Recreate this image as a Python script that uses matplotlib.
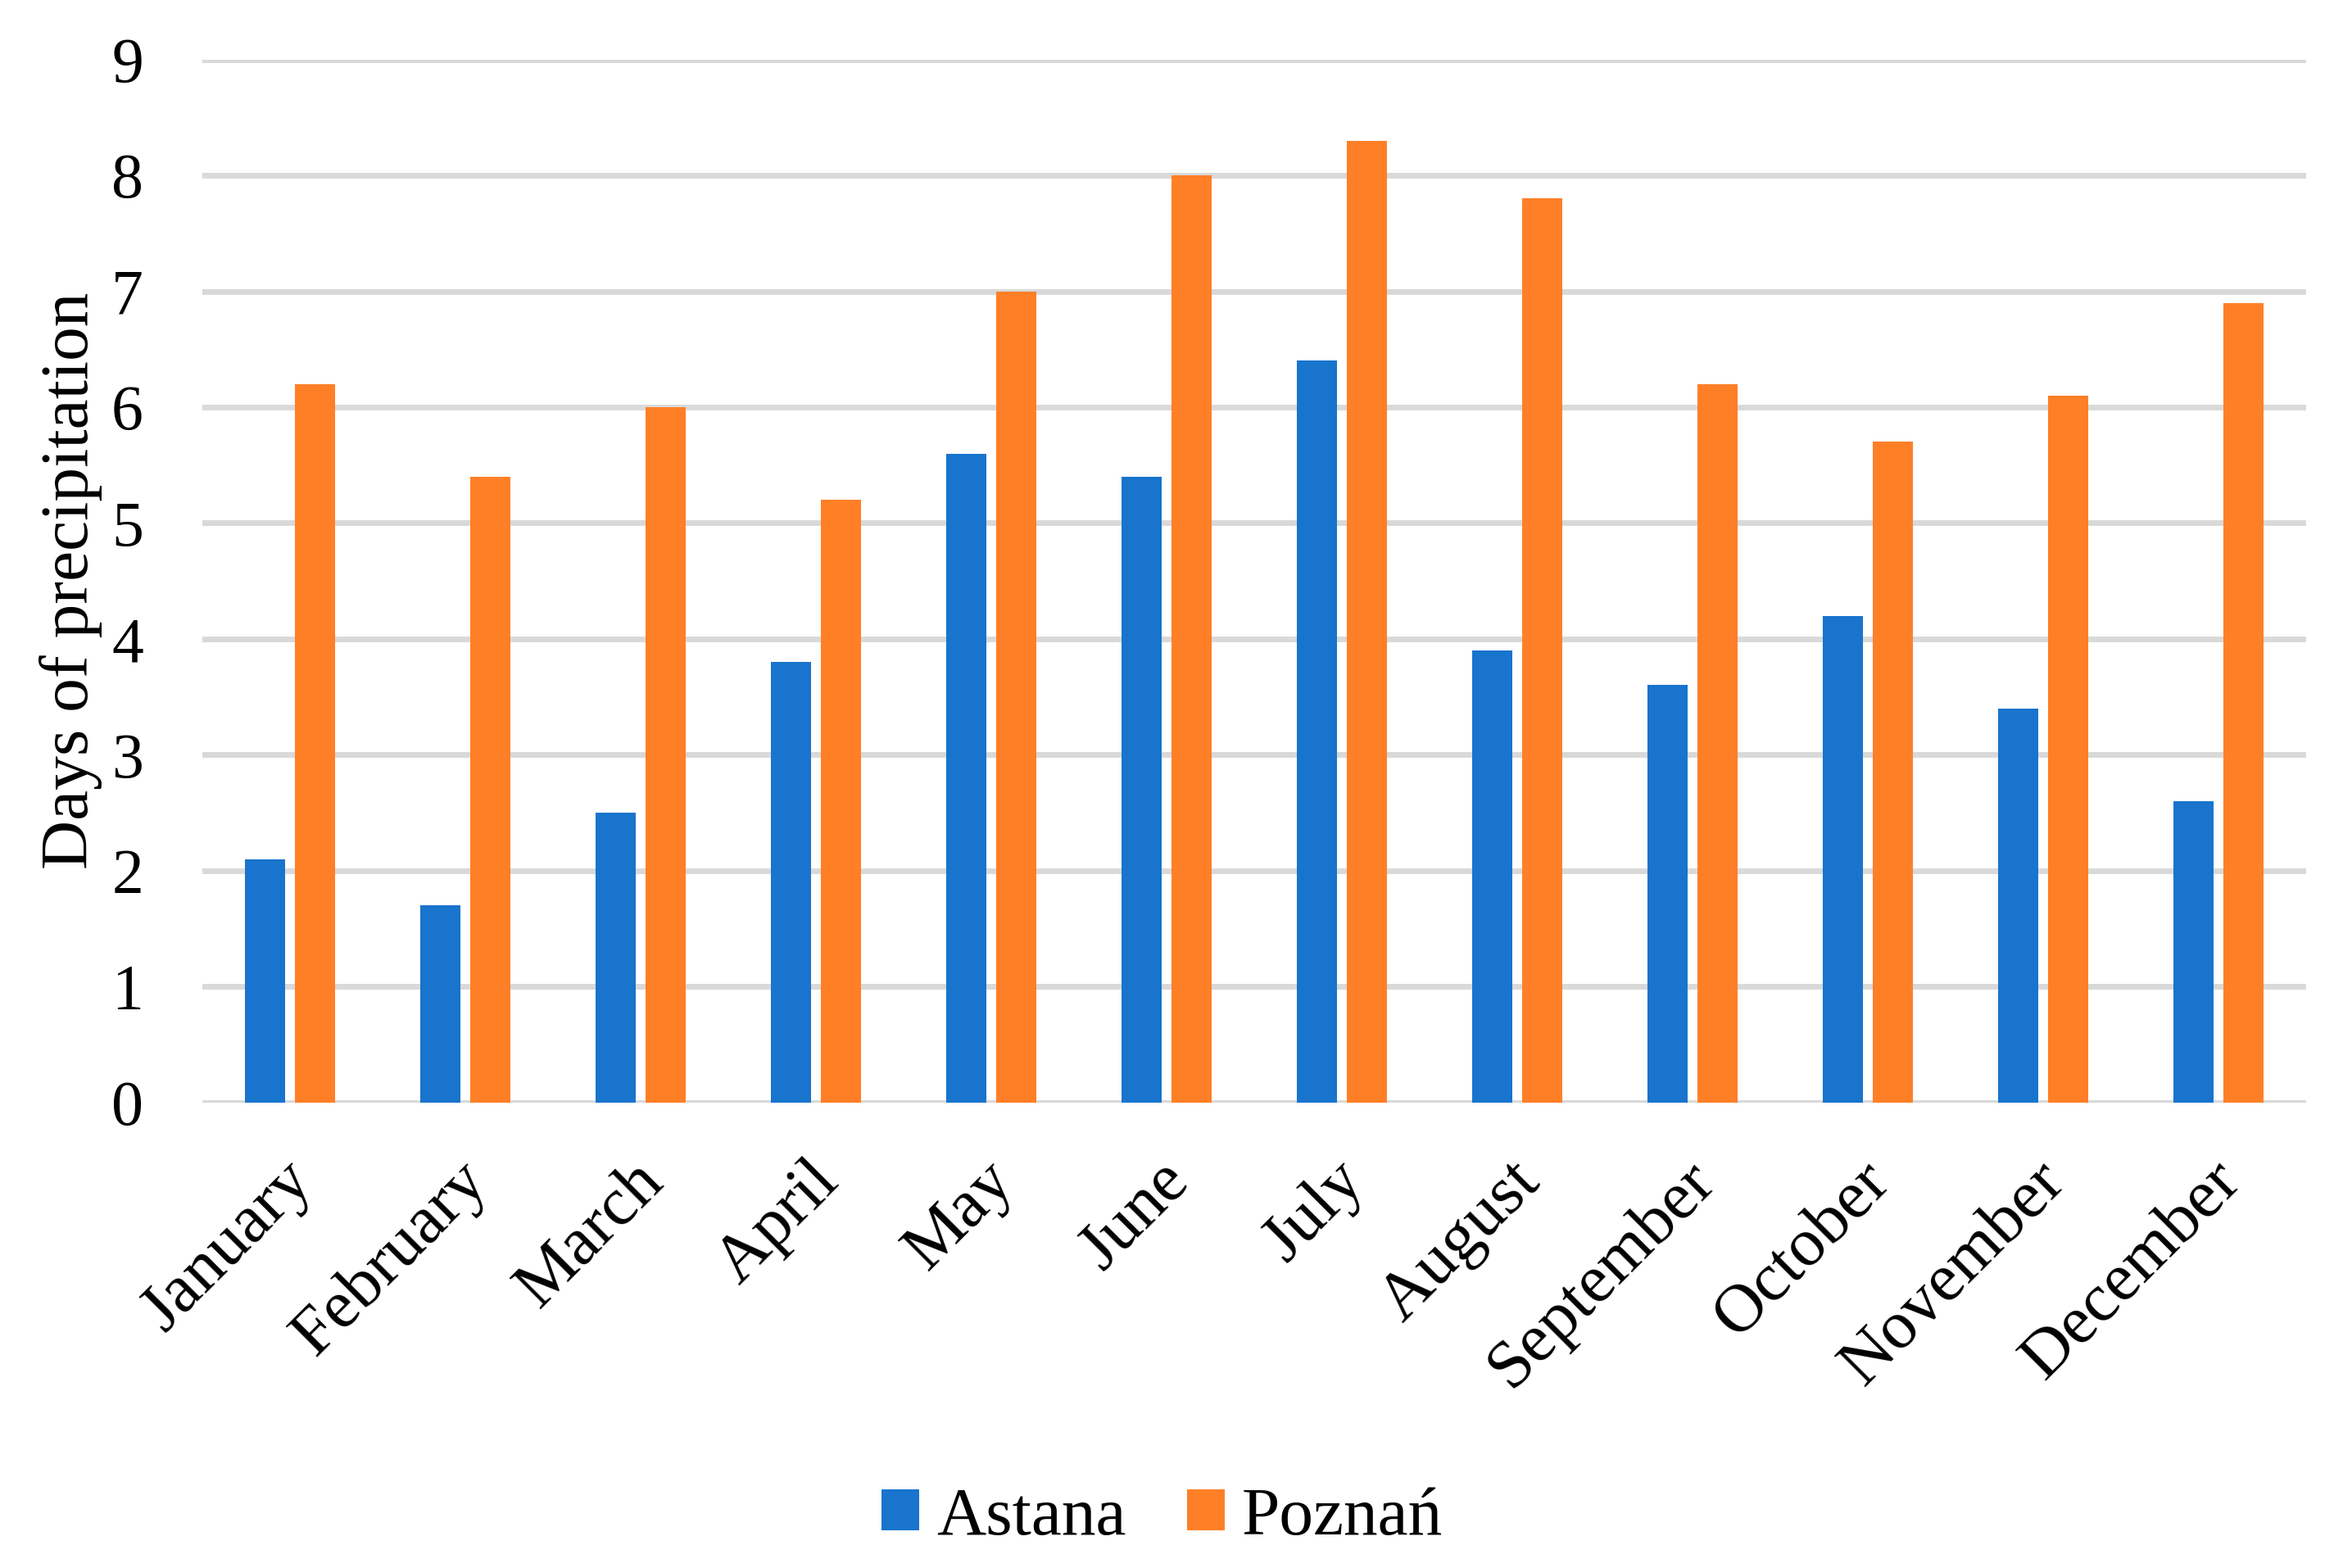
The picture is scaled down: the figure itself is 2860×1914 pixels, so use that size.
import matplotlib.pyplot as plt
import matplotlib.transforms as mtransforms
import numpy as np

months = ["January", "February", "March", "April", "May", "June", "July",
          "August", "September", "October", "November", "December"]
astana = [2.1, 1.7, 2.5, 3.8, 5.6, 5.4, 6.4, 3.9, 3.6, 4.2, 3.4, 2.6]
poznan = [6.2, 5.4, 6.0, 5.2, 7.0, 8.0, 8.3, 7.8, 6.2, 5.7, 6.1, 6.9]

plt.rcParams['font.family'] = ['Liberation Serif', 'DejaVu Serif']

fig = plt.figure(figsize=(14.3, 9.57), dpi=200)
ax = fig.add_axes([0.0864, 0.297, 0.8979, 0.665])

x = np.arange(len(months))
w = 0.229
ax.bar(x - 0.1425, astana, w, color="#1874CD", label="Astana", zorder=3)
ax.bar(x + 0.1425, poznan, w, color="#FF7F27", label="Poznań", zorder=3)

ax.set_xlim(-0.5, len(months) - 0.5)
ax.set_ylim(0, 9)
ax.set_yticks(range(0, 10))
ax.yaxis.grid(True, color="#D9D9D9", linewidth=2.5, zorder=0)
ax.set_axisbelow(True)
for s in ax.spines.values():
    s.set_visible(False)

ax.tick_params(axis="both", length=0)
ax.tick_params(axis="y", pad=26, labelsize=28)
ax.tick_params(axis="x", pad=21, labelsize=30)
ax.set_xticks(x)
ax.set_xticklabels(months, rotation=45, ha="right", rotation_mode="anchor")
# nudge the rotated labels a bit left like the original
shift = mtransforms.ScaledTranslation(-4 / 72, 0, fig.dpi_scale_trans)
for lbl in ax.get_xticklabels():
    lbl.set_transform(lbl.get_transform() + shift)

ax.set_ylabel("Days of precipitation", fontsize=30, labelpad=4)

fig.legend(loc="center", bbox_to_anchor=(0.496, 0.032), ncol=2, frameon=False,
           fontsize=30, handlelength=0.55, handleheight=0.55, handletextpad=0.25,
           columnspacing=0.9)

fig.savefig("out.png", dpi=200, facecolor="white")
